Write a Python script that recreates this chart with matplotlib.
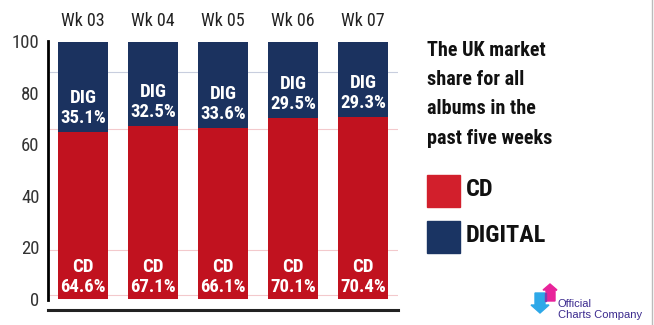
import matplotlib.pyplot as plt
from matplotlib import font_manager
from matplotlib.patches import Rectangle, Polygon
from matplotlib.lines import Line2D

weeks = ['Wk 03', 'Wk 04', 'Wk 05', 'Wk 06', 'Wk 07']
cd_share = [64.6, 67.1, 66.1, 70.1, 70.4]
dig_share = [35.1, 32.5, 33.6, 29.5, 29.3]
y_ticks = [0, 20, 40, 60, 80, 100]

RED = '#C1121F'
NAVY = '#1B325F'


def pick_narrow_font():
    # prefer any narrow / condensed family that is installed
    fonts = font_manager.fontManager.ttflist
    for want in ['Liberation Sans Narrow', 'Roboto Condensed', 'Open Sans Condensed']:
        if any(f.name == want for f in fonts):
            return want, 'normal'
    for f in fonts:
        if 'Narrow' in f.name or 'Condensed' in f.name:
            return f.name, 'normal'
    if any(f.name == 'DejaVu Sans' and f.stretch == 'condensed' for f in fonts):
        return 'DejaVu Sans', 'condensed'
    return 'Roboto', 'normal'


NARROW, STRETCH = pick_narrow_font()
plt.rcParams['font.family'] = [NARROW, 'DejaVu Sans']
plt.rcParams['font.stretch'] = STRETCH

fig = plt.figure(figsize=(6.54, 3.25), dpi=100)
ax = fig.add_axes([48 / 654, 15 / 325, 350 / 654, 269 / 325])

x = range(len(weeks))
ax.bar(x, cd_share, width=0.714, color=RED, zorder=2)
ax.bar(x, dig_share, width=0.714, bottom=cd_share, color=NAVY, zorder=2)

# faint guide lines running between the bars
for level, col in [(88, '#c8cede'), (66, '#f3c9cc'), (19, '#f3c9cc'), (1.5, '#f3c9cc')]:
    ax.axhline(level, color=col, lw=0.8, zorder=1)

for i in x:
    ax.text(i, cd_share[i] + 2.0, f'DIG\n{dig_share[i]}%', ha='center', va='bottom',
            color='white', fontsize=13.5, fontweight='bold', linespacing=1.15, zorder=3)
    ax.text(i, 1.3, f'CD\n{cd_share[i]}%', ha='center', va='bottom',
            color='white', fontsize=13.5, fontweight='bold', linespacing=1.15, zorder=3)
    ax.text(i, 107.6, weeks[i], ha='center', va='center', fontsize=13, color='#222222')

ax.set_xlim(-0.5, 4.5)
ax.set_ylim(-4.26, 100)
ax.set_xticks([])
ax.set_yticks(y_ticks)
ax.set_yticklabels([str(t) for t in y_ticks], fontsize=13.5, color='#333333')
ax.tick_params(axis='y', length=0, pad=6)

for side in ['top', 'right']:
    ax.spines[side].set_visible(False)
ax.spines['left'].set_bounds(-0.5, 100)
ax.spines['left'].set_linewidth(2)
ax.spines['bottom'].set_linewidth(2.2)
ax.spines['bottom'].set_color('#222222')

# title and legend on the right
fig.text(427 / 654, 1 - 41 / 325, 'The UK market\nshare for all\nalbums in the\npast five weeks',
         ha='left', va='top', fontsize=14.5, fontweight='bold', linespacing=1.68, color='#111111')

fig.patches.append(Rectangle((427 / 654, 1 - 207 / 325), 33 / 654, 32 / 325,
                             transform=fig.transFigure, color='#D21F2C'))
fig.patches.append(Rectangle((427 / 654, 1 - 253 / 325), 33 / 654, 32 / 325,
                             transform=fig.transFigure, color='#1A3463'))
fig.text(466 / 654, 1 - 190 / 325, 'CD', ha='left', va='center', fontsize=17.5,
         fontweight='bold', color='#111111')
fig.text(466 / 654, 1 - 236 / 325, 'DIGITAL', ha='left', va='center', fontsize=17.5,
         fontweight='bold', color='#111111')

# Official Charts Company logo
def fp(px, py):
    return (px / 654, 1 - py / 325)

fig.patches.append(Polygon([fp(543, 290), fp(550, 284), fp(557, 290), fp(555, 290),
                            fp(555, 301), fp(546, 301), fp(546, 290)],
                           closed=True, transform=fig.transFigure, color='#E8239A'))
fig.patches.append(Polygon([fp(535, 293), fp(545, 293), fp(545, 305), fp(549, 305),
                            fp(540, 313), fp(531, 305), fp(535, 305)],
                           closed=True, transform=fig.transFigure, color='#2DA8E8'))
fig.patches.append(Rectangle(fp(545, 301), 1 / 654, 8 / 325,
                             transform=fig.transFigure, color='#7B3FB0'))
fig.text(558 / 654, 1 - 304 / 325, 'Official', ha='left', va='center', fontsize=8,
         family='Liberation Sans', stretch='normal', color='#3B2A8E')
fig.text(558 / 654, 1 - 315 / 325, 'Charts Company', ha='left', va='center', fontsize=8,
         family='Liberation Sans', stretch='normal', color='#3B2A8E')

fig.lines.append(Line2D([652 / 654, 652 / 654], [0, 1], transform=fig.transFigure,
                        color='#bbbbbb', lw=1))

fig.savefig('out.png', dpi=100)
